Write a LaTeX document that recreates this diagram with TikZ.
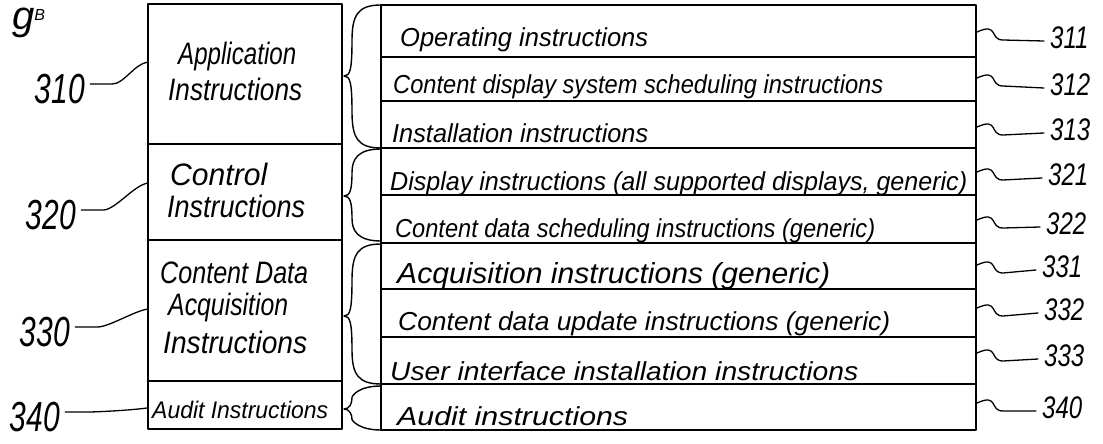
\documentclass[tikz,border=0pt]{standalone}
\usepackage{fontspec}
\setmainfont{Liberation Sans}
\usetikzlibrary{calc}
\newcommand{\fw}[2]{\resizebox{#1pt}{\height}{#2}}
\newcommand{\nmA}[1]{\scalebox{1}[1.4]{#1}}
\newcommand{\nmB}[1]{\scalebox{1}[1.3]{#1}}
\newcommand\bracedraw[3]{%
 \pgfmathsetmacro\bxa{(#1+#2)/2}\pgfmathsetmacro\bxb{(#2+#3)/2}%
 \pgfmathsetmacro\bxc{#1+10}\pgfmathsetmacro\bxd{#3-10}%
 \pgfmathsetmacro\bxe{#2-6}\pgfmathsetmacro\bxf{#2+6}%
 \draw[ln] (381,#1) .. controls (358,#1) and (352,\bxc) .. (352,\bxa)
   .. controls (352,\bxe) and (350,#2) .. (344,#2)
   .. controls (350,#2) and (352,\bxf) .. (352,\bxb)
   .. controls (352,\bxd) and (358,#3) .. (381,#3);}
\tikzset{
 ln/.style={line width=1.4pt, line cap=round, line join=round},
 lead/.style={line width=1.3pt, line cap=round},
 rt/.style={anchor=base west, inner sep=0pt, font=\fontsize{26}{30}\selectfont\itshape},
 lt/.style={anchor=base west, inner sep=0pt, font=\fontsize{31}{34}\selectfont\itshape},
 numl/.style={inner sep=0pt, font=\fontsize{30}{34}\selectfont\itshape},
 numr/.style={inner sep=0pt, anchor=west, font=\fontsize{24}{28}\selectfont\itshape},
}
\begin{document}
\begin{tikzpicture}[x=1pt,y=-1pt]
\useasboundingbox (0,0) rectangle (1103,444);
% figure label (cut off)
\node[anchor=base west, inner sep=0pt, font=\fontsize{40}{44}\selectfont\itshape] (fig) at (12,30) {g\textsuperscript{\fontsize{16}{18}\selectfont B}};
% left box
\draw[ln] (148,4) rectangle (342,429);
\draw[ln] (148,144) -- (342,144);
\draw[ln] (148,240) -- (342,240);
\draw[ln] (148,381) -- (342,381);
% right box
\draw[ln] (381,5) rectangle (976,430);
\foreach \yy in {57,101,148,195,243,289,337,384} \draw[ln] (381,\yy) -- (976,\yy);
% braces
\bracedraw{5}{76}{148}
\bracedraw{149}{196}{241}
\bracedraw{244}{316}{384}
\bracedraw{386}{409}{430}
% left box texts
\node[lt] (a1) at (178,65) {\fw{118}{Application}};
\node[lt] (a2) at (168,100) {\fw{134}{Instructions}};
\node[lt] (c1) at (170,185) {\fw{97}{Control}};
\node[lt] (c2) at (167,217) {\fw{138}{Instructions}};
\node[lt] (d1) at (160,283) {\fw{148}{Content Data}};
\node[lt] (d2) at (168,315) {\fw{120}{Acquisition}};
\node[lt] (d3) at (163,353) {\fw{144}{Instructions}};
\node[lt, font=\fontsize{24}{27}\selectfont\itshape] (e1) at (152,418) {\fw{176}{Audit Instructions}};
% right texts
\node[rt] (t311) at (400,47) {\fw{248}{Operating instructions}};
\node[rt] (t312) at (393,93) {\fw{490}{Content display system scheduling instructions}};
\node[rt] (t313) at (392,142) {\fw{256}{Installation instructions}};
\node[rt] (t321) at (390,190) {\fw{577}{Display instructions (all supported displays, generic)}};
\node[rt] (t322) at (395,237) {\fw{480}{Content data scheduling instructions (generic)}};
\node[rt, font=\fontsize{29}{32}\selectfont\itshape] (t331) at (397,283) {\fw{433}{Acquisition instructions (generic)}};
\node[rt] (t332) at (398,330) {\fw{492}{Content data update instructions (generic)}};
\node[rt] (t333) at (390,380) {\fw{468}{User interface installation instructions}};
\node[rt] (t340) at (397,425) {\fw{231}{Audit instructions}};
% left labels
\node[numl] (l310) at (60,89) {\nmA{310}};
\node[numl] (l320) at (51,215) {\nmA{320}};
\node[numl] (l330) at (45,332) {\nmA{330}};
\node[numl] (l340) at (35,417) {\nmA{340}};
\coordinate (b310) at (148,62);
\coordinate (b320) at (148,183);
\coordinate (b330) at (148,309);
\coordinate (b340) at (147,408);
\foreach \n in {310,320,330,340}
  \draw[lead] ($(l\n.east)+(5,-5)$) -- +(22,0) .. controls +(12,0) and +(-14,2) .. (b\n);
% right labels
\node[numr] (r311) at (1050,38) {\nmB{311}};
\node[numr] (r312) at (1050,85) {\nmB{312}};
\node[numr] (r313) at (1050,130) {\nmB{313}};
\node[numr] (r321) at (1048,175) {\nmB{321}};
\node[numr] (r322) at (1046,224) {\nmB{322}};
\node[numr] (r331) at (1042,267) {\nmB{331}};
\node[numr] (r332) at (1044,310) {\nmB{332}};
\node[numr] (r333) at (1044,356) {\nmB{333}};
\node[numr] (r340) at (1042,408) {\nmB{340}};
\coordinate (e311) at (977,32);
\coordinate (e312) at (977,78);
\coordinate (e313) at (977,127);
\coordinate (e321) at (977,172);
\coordinate (e322) at (977,220);
\coordinate (e331) at (977,265);
\coordinate (e332) at (977,308);
\coordinate (e333) at (977,353);
\coordinate (e340) at (977,403);
\foreach \n in {311,312,313,321,322,331,332,333,340}
  \draw[lead] (e\n) .. controls +(22,-10) and +(-14,0) .. ++(26,8) -- ($(r\n.west)+(-6,3)$);
\end{tikzpicture}
\end{document}
